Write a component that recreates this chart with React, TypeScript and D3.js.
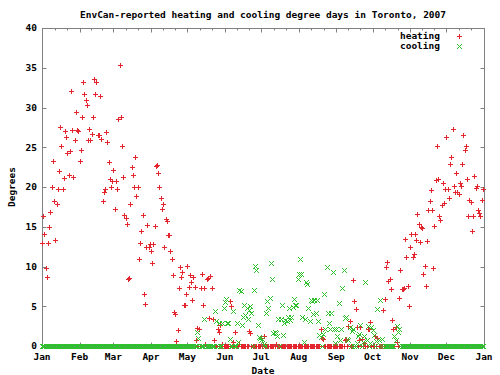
import React from 'react';
import * as d3 from 'd3';

// EnvCan daily degree days, Toronto 2007 (one value per day, Jan 1 .. Dec 31)
const title = 'EnvCan-reported heating and cooling degree days in Toronto, 2007';
const monthLabels = ['Jan', 'Feb', 'Mar', 'Apr', 'May', 'Jun', 'Jul', 'Aug', 'Sep', 'Oct', 'Nov', 'Dec', 'Jan'];
const yTicks = [0, 5, 10, 15, 20, 25, 30, 35, 40];
const seriesNames = ['heating', 'cooling'];

const heating = [
  // Jan
  12.9, 16.3, 14.1, 9.8, 8.7, 12.9, 15.0, 16.9, 20.0, 23.3, 18.2, 13.3, 17.9, 19.8, 22.0, 27.6,
  25.2, 19.8, 21.1, 27.0, 26.3, 24.3, 21.5, 24.5, 32.1, 27.2, 21.2, 25.9, 29.4, 27.2, 27.0,
  // Feb
  23.3, 24.7, 28.8, 33.2, 31.7, 30.9, 30.3, 25.9, 27.3, 25.9, 26.7, 28.8, 33.6, 31.7,
  33.2, 26.6, 26.6, 31.4, 26.1, 18.3, 19.4, 19.7, 26.9, 25.6, 23.1, 21.0, 20.0, 20.8,
  // Mar
  22.2, 17.2, 20.8, 19.7, 28.5, 35.3, 28.8, 25.1, 21.3, 16.5, 16.1, 15.3, 8.4, 8.6, 17.9, 22.5,
  21.5, 20.0, 23.8, 18.9, 20.0, 10.9, 12.9, 14.5, 16.5, 6.6, 5.3, 12.5, 15.2, 12.4, 12.8,
  // Apr
  12.0, 10.4, 12.8, 15.1, 22.6, 22.8, 21.8, 20.0, 18.6, 17.2, 17.9, 12.5, 16.0, 15.7, 14.0,
  13.9, 12.0, 11.0, 8.9, 4.3, 4.0, 0.6, 2.0, 7.3, 9.9, 8.7, 9.3, 5.2, 5.1, 6.5,
  // May
  10.1, 7.4, 8.9, 8.0, 5.8, 8.7, 7.4, 0.7, 2.3, 0, 2.2, 7.3, 9.1, 5.1, 7.3, 0.3,
  8.4, 8.6, 3.5, 8.8, 7.3, 3.4, 0.7, 0, 0, 2.2, 1.7, 2.7, 0, 0.3, 0,
  // Jun
  0, 0, 0, 0, 5.6, 5.0, 0, 0.5, 1.8, 0, 0, 0, 0.2, 0, 0,
  0, 0, 0, 0, 0, 1.9, 1.6, 0, 0, 0, 0, 0, 0, 0, 0,
  // Jul
  1.0, 0, 1.3, 0, 0, 0, 0, 0, 0, 0, 0, 0, 0.3, 0, 0, 0,
  0, 0, 0, 0, 0, 0, 0, 0, 0, 0, 0, 0, 0, 0, 0,
  // Aug
  0, 0, 0, 0, 0, 0, 0, 0, 0, 0, 0, 0, 0, 0, 0, 0,
  0, 0, 2.2, 1.0, 0.9, 0, 0, 0, 0, 0, 0, 0, 0, 0, 0,
  // Sep
  0, 0, 0, 0, 0, 0, 0, 0.8, 0.9, 0, 2.5, 3.2, 0, 0, 8.3,
  5.7, 4.6, 2.4, 0, 0.8, 2.4, 0.9, 0, 0.4, 0, 0, 2.2, 2.2, 3.0, 0,
  // Oct
  0, 0, 1.2, 0, 1.0, 0, 0, 0, 0, 4.5, 5.9, 9.9, 10.6, 8.2, 8.4, 7.2,
  3.3, 2.2, 0, 2.4, 0.5, 0, 6.1, 9.5, 7.2, 7.2, 7.3, 13.4, 11.2, 7.5, 5.0,
  // Nov
  12.5, 14.1, 11.2, 11.6, 14.1, 13.3, 16.6, 15.4, 13.1, 15.0, 14.8, 9.1, 10.1, 7.6, 13.2,
  17.1, 18.2, 19.6, 17.1, 9.8, 15.1, 20.9, 25.1, 21.0, 16.4, 15.8, 17.7, 20.5, 18.0, 19.8,
  // Dec
  26.3, 19.8, 18.6, 22.9, 23.8, 27.3, 20.1, 19.4, 21.7, 19.4, 19.1, 20.5, 20.1, 22.9, 26.6, 24.6,
  25.1, 21.0, 16.3, 18.4, 18.1, 14.5, 16.4, 21.4, 19.9, 20.1, 17.1, 16.7, 16.3, 18.4, 19.8,
];

const cooling = [
  // Jan
  0, 0, 0, 0, 0, 0, 0, 0, 0, 0, 0, 0, 0, 0, 0, 0,
  0, 0, 0, 0, 0, 0, 0, 0, 0, 0, 0, 0, 0, 0, 0,
  // Feb
  0, 0, 0, 0, 0, 0, 0, 0, 0, 0, 0, 0, 0, 0,
  0, 0, 0, 0, 0, 0, 0, 0, 0, 0, 0, 0, 0, 0,
  // Mar
  0, 0, 0, 0, 0, 0, 0, 0, 0, 0, 0, 0, 0, 0, 0, 0,
  0, 0, 0, 0, 0, 0, 0, 0, 0, 0, 0, 0, 0, 0, 0,
  // Apr
  0, 0, 0, 0, 0, 0, 0, 0, 0, 0, 0, 0, 0, 0, 0,
  0, 0, 0, 0, 0, 0, 0, 0, 0, 0, 0, 0, 0, 0, 0,
  // May
  0, 0, 0, 0, 0, 0, 0, 0, 1.8, 1.0, 0, 0, 0, 0, 3.4, 0,
  0, 0, 0, 0, 0, 0, 0, 4.4, 3.1, 0, 2.9, 0, 0, 2.9, 4.8,
  // Jun
  5.5, 5.9, 2.9, 2.9, 0.9, 0, 0, 4.4, 0, 0, 2.9, 0.5, 7.0, 6.9, 2.6,
  3.7, 5.2, 3.9, 4.8, 3.4, 4.5, 5.0, 4.2, 0, 7.0, 10.1, 9.5, 2.6, 1.1, 1.0,
  // Jul
  0.8, 0.9, 0.3, 0, 4.2, 5.6, 4.8, 6.0, 10.4, 8.4, 1.6, 1.7, 1.6, 1.2, 3.4, 0,
  3.4, 5.1, 1.4, 2.9, 3.3, 3.1, 3.6, 4.8, 3.3, 3.7, 4.9, 5.9, 5.2, 5.2, 8.4,
  // Aug
  9.1, 10.9, 9.1, 3.7, 0.5, 3.4, 8.0, 7.8, 4.8, 3.2, 5.8, 5.6, 4.0, 5.8, 4.2, 5.8,
  3.2, 1.4, 1.1, 0, 1.5, 6.6, 2.1, 9.9, 4.2, 2.9, 2.1, 4.2, 9.3, 2.1, 0.4,
  // Sep
  2.1, 1.2, 5.4, 0.8, 2.2, 7.3, 9.6, 3.5, 3.6, 0.9, 0.7, 2.4, 0, 1.9, 2.1,
  0, 0, 0.4, 1.2, 1.5, 2.6, 0, 0.5, 1.2, 8.0, 0.8, 2.5, 0, 0.4, 2.4,
  // Oct
  2.0, 1.4, 0, 0.6, 4.7, 0.8, 5.8, 0, 0.9, 0, 0, 0, 0, 0, 0, 0,
  0, 0, 1.2, 0.8, 2.5, 1.8, 2.1, 0, 0, 0, 0, 0, 0, 0, 0,
  // Nov
  0, 0, 0, 0, 0, 0, 0, 0, 0, 0, 0, 0, 0, 0, 0,
  0, 0, 0, 0, 0, 0, 0, 0, 0, 0, 0, 0, 0, 0, 0,
  // Dec
  0, 0, 0, 0, 0, 0, 0, 0, 0, 0, 0, 0, 0, 0, 0, 0,
  0, 0, 0, 0, 0, 0, 0, 0, 0, 0, 0, 0, 0, 0, 0,
];

const RED = '#e3262e';
const GREEN = '#2fbf2f';
const FRAME = '#808080';
const FONT = '"DejaVu Sans Mono", monospace';

const px = (v: number) => Math.round(v) + 0.5;
const plus = (cx: number, cy: number, r = 2.5) =>
  `M${cx - r},${cy}h${2 * r}M${cx},${cy - r}v${2 * r}`;
const cross = (cx: number, cy: number, r = 2.5) =>
  `M${cx - r},${cy - r}l${2 * r},${2 * r}M${cx - r},${cy + r}l${2 * r},${-2 * r}`;

export default function App() {
  const width = 500;
  const height = 375;
  const start = new Date(Date.UTC(2007, 0, 1));
  const end = new Date(Date.UTC(2008, 0, 1));

  const x = d3.scaleUtc().domain([start, end]).range([42, 484]);
  const y = d3.scaleLinear().domain([0, 40]).range([346, 28]);
  const [x0, x1] = x.range();
  const [y0, y1] = y.range();

  const months = d3.utcMonth.range(start, d3.utcMonth.offset(end, 1));
  // two minor tics between each pair of month tics
  const minors: number[] = [];
  for (let i = 0; i < months.length - 1; i++) {
    const a = x(months[i]);
    const b = x(months[i + 1]);
    minors.push(a + (b - a) / 3, a + (2 * (b - a)) / 3);
  }

  const day = (i: number) => x(d3.utcDay.offset(start, i));
  const heatPath = heating.map((v, i) => plus(px(day(i)), px(y(v)))).join('');
  const coolPath = cooling.map((v, i) => cross(px(day(i)), px(y(v)))).join('');

  const textStyle = { fontFamily: FONT, fontSize: 9.5, fontWeight: 'bold' as const, fill: '#000' };

  return (
    <svg
      width={width}
      height={height}
      style={{ position: 'absolute', left: 0, top: 0, background: '#fff' }}
    >
      <rect x={0} y={0} width={width} height={height} fill="#fff" />
      <text x={(x0 + x1) / 2} y={18} textAnchor="middle" style={textStyle}>
        {title}
      </text>

      {/* frame */}
      <rect
        x={px(x0)}
        y={px(y1)}
        width={Math.round(x1) - Math.round(x0)}
        height={Math.round(y0) - Math.round(y1)}
        fill="none"
        stroke={FRAME}
        strokeWidth={1}
      />

      {/* y tics, mirrored on the right */}
      {yTicks.map((t) => (
        <g key={`y${t}`}>
          <line x1={px(x0)} x2={px(x0) + 4} y1={px(y(t))} y2={px(y(t))} stroke={FRAME} />
          <line x1={px(x1)} x2={px(x1) - 4} y1={px(y(t))} y2={px(y(t))} stroke={FRAME} />
          <text x={37} y={y(t)} dy="0.35em" textAnchor="end" style={textStyle}>
            {t}
          </text>
        </g>
      ))}

      {/* x tics, mirrored on top */}
      {months.map((m, i) => (
        <g key={`m${i}`}>
          <line x1={px(x(m))} x2={px(x(m))} y1={px(y0)} y2={px(y0) - 4} stroke={FRAME} />
          <line x1={px(x(m))} x2={px(x(m))} y1={px(y1)} y2={px(y1) + 4} stroke={FRAME} />
          <text x={x(m)} y={359.5} textAnchor="middle" style={textStyle}>
            {monthLabels[i]}
          </text>
        </g>
      ))}
      {minors.map((m, i) => (
        <g key={`n${i}`}>
          <line x1={px(m)} x2={px(m)} y1={px(y0)} y2={px(y0) - 2} stroke={FRAME} />
          <line x1={px(m)} x2={px(m)} y1={px(y1)} y2={px(y1) + 2} stroke={FRAME} />
        </g>
      ))}

      <text x={(x0 + x1) / 2} y={373.5} textAnchor="middle" style={textStyle}>
        Date
      </text>
      <text
        transform={`translate(12,${(y0 + y1) / 2}) rotate(-90)`}
        textAnchor="middle"
        dy="0.35em"
        style={textStyle}
      >
        Degrees
      </text>

      {/* data */}
      <path d={heatPath} fill="none" stroke={RED} strokeWidth={1} />
      <path d={coolPath} fill="none" stroke={GREEN} strokeWidth={1} />

      {/* key */}
      <text x={440} y={36} dy="0.35em" textAnchor="end" style={textStyle}>
        {seriesNames[0]}
      </text>
      <path d={plus(px(459), px(36))} stroke={RED} fill="none" />
      <text x={440} y={46} dy="0.35em" textAnchor="end" style={textStyle}>
        {seriesNames[1]}
      </text>
      <path d={cross(px(459), px(46))} stroke={GREEN} fill="none" />
    </svg>
  );
}
